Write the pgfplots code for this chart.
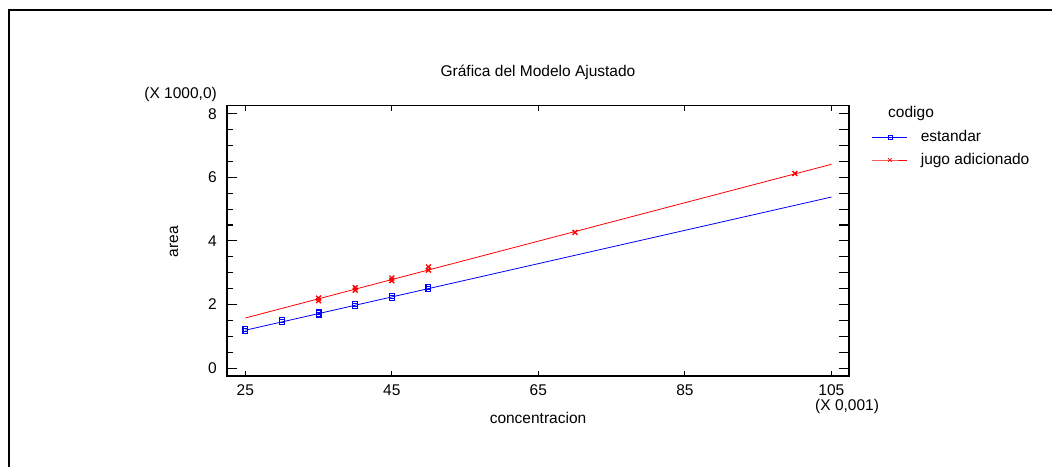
\documentclass[border=0pt]{standalone}
\usepackage{pgfplots}
\pgfplotsset{compat=1.18}
\usepackage{fontspec}
\setmainfont{Liberation Sans}
\pgfplotsset{
  common/.style={
    at={(227pt,90pt)}, anchor=south west, scale only axis,
    width=622pt, height=270.5pt,
    xmin=22.5, xmax=107.4, ymin=-0.25, ymax=8.26,
    tick align=inside,
    axis line style={line width=1.4pt},
    every tick/.style={black, line width=1.1pt},
    /pgf/number format/assume math mode=true,
    legend image code/.code={\draw[mark repeat=2,mark phase=2,##1] plot coordinates {(0pt,0pt) (17.5pt,0pt) (35pt,0pt)};},
    legend style={draw=none, fill=none, inner sep=0pt, outer sep=0pt,
      /tikz/every odd column/.append style={column sep=11pt}},
  }
}
\begin{document}
\fontsize{15.5pt}{18pt}\selectfont
\begin{tikzpicture}[x=1pt,y=1pt]
\path[use as bounding box] (0,0) rectangle (1052,466);
\begin{scope}
\clip (0,0) rectangle (1052,466);
\draw[line width=2pt] (9,-10) -- (9,456) -- (1062,456);
\end{scope}
% axis A: data, left y ticks and labels
\begin{axis}[common,
  xtick=\empty, ytick={0,2,4,6,8}, minor y tick num=3, ytick pos=left,
  major tick length=10pt, minor tick length=6pt,
  yticklabel style={xshift=-5pt},
]
\addplot[blue, line width=0.8pt] coordinates {(25,1.19) (105,5.38)};
\addplot[red, line width=0.8pt] coordinates {(25,1.575) (105,6.41)};
\addplot[blue, only marks, mark=square, mark size=2.4pt, mark options={line width=1.2pt}] coordinates {
(25,1.17) (25,1.23) (30,1.45) (30,1.52) (35,1.68) (35,1.75) (40,1.95) (40,2.02)
(45,2.20) (45,2.27) (50,2.48) (50,2.55)};
\addplot[red, only marks, mark=x, mark size=3.4pt, mark options={line width=1.4pt}] coordinates {
(35,2.12) (35,2.20) (40,2.45) (40,2.53) (45,2.75) (45,2.83) (50,3.08) (50,3.18)
(70,4.27) (100,6.12)};
\end{axis}
% axis B: right y ticks, legend entry 1
\begin{axis}[common,
  xtick=\empty, ytick={0,2,4,6,8}, minor y tick num=3, ytick pos=right,
  yticklabels={}, major tick length=10pt, minor tick length=10pt,
  legend style={at={(axis description cs:1.037,0.8835)}, anchor=west},
]
\addlegendimage{blue, line width=0.8pt, mark=square, mark size=2pt, mark options={line width=0.8pt}}
\addlegendentry{estandar}
\end{axis}
% axis C: x ticks, legend entry 2
\begin{axis}[common,
  ytick=\empty, xtick={25,45,65,85,105},
  major tick length=5pt, xticklabel style={yshift=-3pt},
  legend style={at={(axis description cs:1.037,0.7985)}, anchor=west},
]
\addlegendimage{red, line width=0.8pt, mark=x, mark size=2.5pt, mark options={line width=0.8pt}}
\addlegendentry{jugo adicionado}
\end{axis}
\node[anchor=base] at (538,389.5) {Gráfica del Modelo Ajustado};
\node[anchor=base east, inner sep=0pt] at (217,367) {(X 1000,0)};
\node[anchor=base west, inner sep=0pt] at (815,56) {(X 0,001)};
\node[anchor=base, inner sep=0pt] at (538,43) {concentracion};
\node[anchor=base, rotate=90, inner sep=0pt] at (178,224.5) {area};
\node[anchor=base west, inner sep=0pt] at (888,348.5) {codigo};
\end{tikzpicture}
\end{document}
